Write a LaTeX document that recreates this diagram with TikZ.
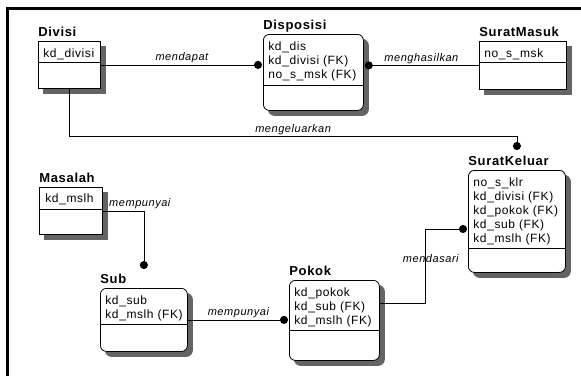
\documentclass[tikz,border=0pt]{standalone}
\usepackage{fontspec}
\newfontfamily\erdfont[LetterSpace=5]{Liberation Sans}
\usetikzlibrary{arrows.meta}
\definecolor{shadowgray}{RGB}{100,100,100}

\tikzset{
  entity/.style={draw, fill=white, anchor=north west, inner sep=0pt},
  rentity/.style={entity, rounded corners=6pt},
  eshadow/.style={fill=shadowgray, draw=shadowgray, anchor=north west, inner sep=0pt},
  reshadow/.style={eshadow, rounded corners=6pt},
  ename/.style={anchor=base west, inner sep=0pt, font=\erdfont\bfseries\fontsize{13}{15}\selectfont},
  attrs/.style={anchor=north west, inner sep=0pt, align=left, font=\erdfont\fontsize{12}{14}\selectfont},
  lbl/.style={anchor=base, inner sep=0pt, yshift=4pt, font=\erdfont\itshape\fontsize{11}{13}\selectfont},
  rel/.style={->, shorten >=1pt}
}

\begin{document}
\begin{tikzpicture}[x=1pt,y=-1pt,>={Circle[length=8pt]},line width=0.8pt]
  \useasboundingbox (0,0) rectangle (581,376);
  \draw[line width=3pt] (7.5,376) -- (7.5,8.5) -- (581,8.5);

  % entitas
  \node[eshadow, minimum width=62pt, minimum height=47pt] (divisi-s) at (43,46) {};
  \node[entity, minimum width=62pt, minimum height=47pt] (divisi) at (38,41) {};
  \node[ename] (divisi-t) at ([yshift=4.5pt]divisi.north west) {Divisi};
  \node[attrs] (divisi-a) at ([shift={(5pt,-7pt)}]divisi.north west) {kd\_divisi};
  \draw ([yshift=-21pt]divisi.north west) -- ([yshift=-21pt]divisi.north east);

  \node[reshadow, minimum width=100pt, minimum height=76pt] (disposisi-s) at (268,39) {};
  \node[rentity, minimum width=100pt, minimum height=76pt] (disposisi) at (263,34) {};
  \node[ename] (disposisi-t) at ([yshift=4.5pt]disposisi.north west) {Disposisi};
  \node[attrs] (disposisi-a) at ([shift={(5pt,-7pt)}]disposisi.north west)
    {kd\_dis\\kd\_divisi (FK)\\no\_s\_msk (FK)};
  \draw ([yshift=-51pt]disposisi.north west) -- ([yshift=-51pt]disposisi.north east);

  \node[eshadow, minimum width=87pt, minimum height=48pt] (suratmasuk-s) at (484,46) {};
  \node[entity, minimum width=87pt, minimum height=48pt] (suratmasuk) at (479,41) {};
  \node[ename] (suratmasuk-t) at ([yshift=4.5pt]suratmasuk.north west) {SuratMasuk};
  \node[attrs] (suratmasuk-a) at ([shift={(5pt,-7pt)}]suratmasuk.north west) {no\_s\_msk};
  \draw ([yshift=-21pt]suratmasuk.north west) -- ([yshift=-21pt]suratmasuk.north east);

  \node[reshadow, minimum width=97pt, minimum height=102pt] (suratkeluar-s) at (473,175) {};
  \node[rentity, minimum width=97pt, minimum height=102pt] (suratkeluar) at (468,170) {};
  \node[ename] (suratkeluar-t) at ([yshift=4.5pt]suratkeluar.north west) {SuratKeluar};
  \node[attrs] (suratkeluar-a) at ([shift={(5pt,-7pt)}]suratkeluar.north west)
    {no\_s\_klr\\kd\_divisi (FK)\\kd\_pokok (FK)\\kd\_sub (FK)\\kd\_mslh (FK)};
  \draw ([yshift=-78pt]suratkeluar.north west) -- ([yshift=-78pt]suratkeluar.north east);

  \node[eshadow, minimum width=63pt, minimum height=47pt] (masalah-s) at (44,192) {};
  \node[entity, minimum width=63pt, minimum height=47pt] (masalah) at (39,187) {};
  \node[ename] (masalah-t) at ([yshift=4.5pt]masalah.north west) {Masalah};
  \node[attrs] (masalah-a) at ([shift={(6pt,-6pt)}]masalah.north west) {kd\_mslh};
  \draw ([yshift=-22pt]masalah.north west) -- ([yshift=-22pt]masalah.north east);

  \node[reshadow, minimum width=87pt, minimum height=63pt] (sub-s) at (105,293) {};
  \node[rentity, minimum width=87pt, minimum height=63pt] (sub) at (100,288) {};
  \node[ename] (sub-t) at ([yshift=4.5pt]sub.north west) {Sub};
  \node[attrs] (sub-a) at ([shift={(5pt,-7pt)}]sub.north west) {kd\_sub\\kd\_mslh (FK)};
  \draw ([yshift=-36pt]sub.north west) -- ([yshift=-36pt]sub.north east);

  \node[reshadow, minimum width=90pt, minimum height=80pt] (pokok-s) at (294,285) {};
  \node[rentity, minimum width=90pt, minimum height=80pt] (pokok) at (289,280) {};
  \node[ename] (pokok-t) at ([yshift=4.5pt]pokok.north west) {Pokok};
  \node[attrs] (pokok-a) at ([shift={(5pt,-7pt)}]pokok.north west)
    {kd\_pokok\\kd\_sub (FK)\\kd\_mslh (FK)};
  \draw ([yshift=-50pt]pokok.north west) -- ([yshift=-50pt]pokok.north east);

  % relasi
  \draw[rel] (divisi.east) -- node[lbl] {mendapat} (divisi.east -| disposisi.west);
  \draw[rel] (suratmasuk.west) -- node[lbl] {menghasilkan} (suratmasuk.west -| disposisi.east);
  \draw[rel] (divisi.south) -- ++(0,48) -| node[lbl, pos=0.25] {mengeluarkan}
    ([yshift=19pt]suratkeluar.north);
  \draw[rel] (masalah.east) node[lbl, anchor=base west, xshift=6pt] {mempunyai}
    -| ([yshift=18pt]sub.north);
  \draw[rel] (sub.east) -- node[lbl] {mempunyai} (sub.east -| pokok.west);
  \draw[rel] ([yshift=-23pt]pokok.north east) -- ++(46,0)
    |- node[lbl, pos=0.25, xshift=5pt] {mendasari} ([yshift=-59pt]suratkeluar.north west);
\end{tikzpicture}
\end{document}
